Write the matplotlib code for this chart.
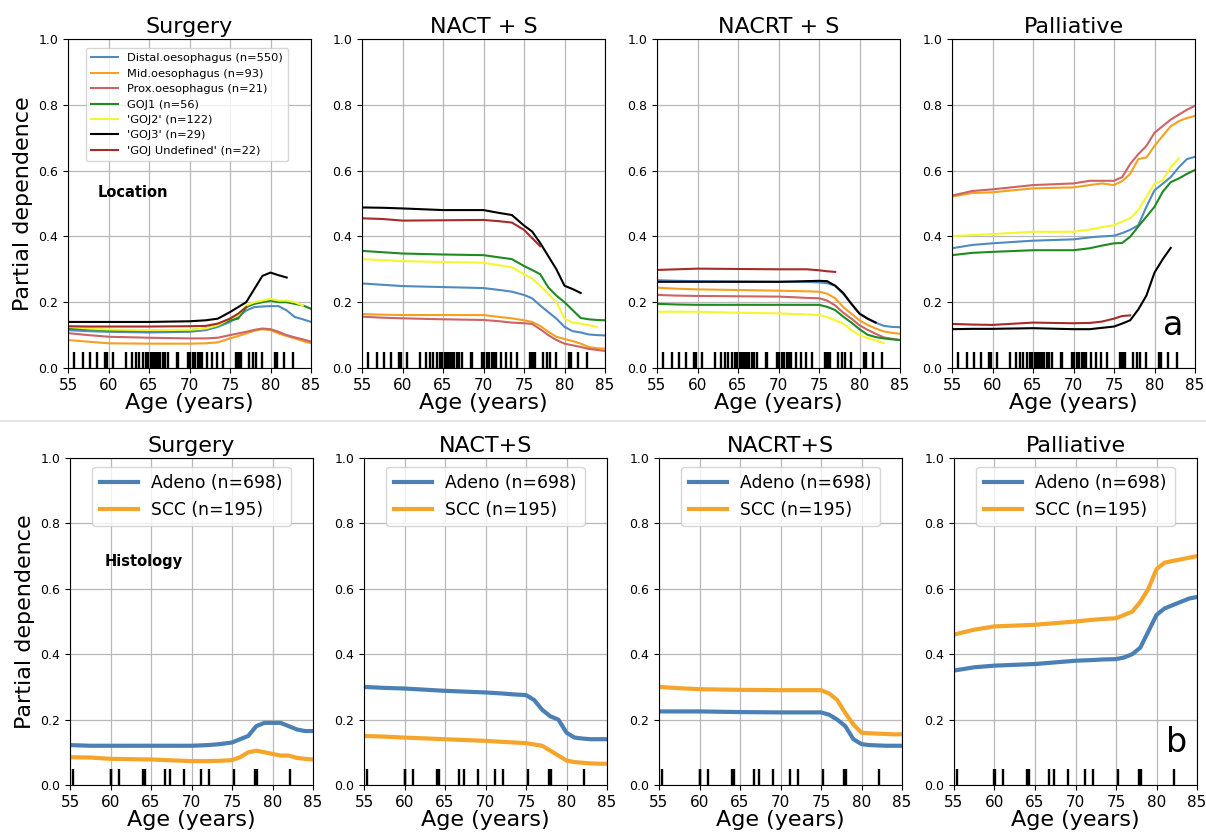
import numpy as np
import matplotlib
matplotlib.use('Agg')
import matplotlib.pyplot as plt
from matplotlib.lines import Line2D

nan = np.nan
ages = [55, 57.5, 60, 65, 70, 72, 73.5, 75, 76, 77, 78, 79, 80, 81, 82, 83, 84, 85]

# top row: location
loc_labels = ['Distal.oesophagus (n=550)', 'Mid.oesophagus (n=93)', 'Prox.oesophagus (n=21)',
              'GOJ1 (n=56)', "'GOJ2' (n=122)", "'GOJ3' (n=29)", "'GOJ Undefined' (n=22)"]
loc_colors = ['#4f8ac0', '#f5a020', '#cd6464', '#1f8a1f', '#f5f530', 'black', '#a52a2a']

surg_loc = [
    [0.115, 0.112, 0.11, 0.108, 0.11, 0.115, 0.125, 0.14, 0.155, 0.175, 0.185, 0.187, 0.188, 0.188, 0.175, 0.155, 0.148, 0.14],
    [0.085, 0.08, 0.075, 0.074, 0.074, 0.075, 0.078, 0.09, 0.097, 0.105, 0.113, 0.118, 0.115, 0.105, 0.097, 0.09, 0.082, 0.075],
    [0.106, 0.1, 0.095, 0.092, 0.09, 0.09, 0.092, 0.1, 0.105, 0.11, 0.116, 0.12, 0.118, 0.11, 0.1, 0.093, 0.087, 0.08],
    [0.12, 0.118, 0.115, 0.113, 0.115, 0.12, 0.13, 0.145, 0.15, 0.185, 0.195, 0.2, 0.205, 0.2, 0.2, 0.195, 0.19, 0.18],
    [0.125, 0.12, 0.117, 0.115, 0.116, 0.12, 0.13, 0.15, 0.16, 0.19, 0.2, 0.205, 0.21, 0.205, 0.205, 0.2, 0.19, nan],
    [0.14, 0.14, 0.14, 0.14, 0.142, 0.145, 0.15, 0.17, 0.185, 0.2, 0.24, 0.28, 0.29, 0.282, 0.275, nan, nan, nan],
    [0.127, 0.126, 0.126, 0.126, 0.127, 0.128, 0.135, 0.15, 0.165, 0.185, nan, nan, nan, nan, nan, nan, nan, nan],
]
nact_loc = [
    [0.257, 0.253, 0.249, 0.246, 0.243, 0.237, 0.232, 0.222, 0.212, 0.19, 0.17, 0.15, 0.125, 0.112, 0.108, 0.102, 0.1, 0.099],
    [0.164, 0.162, 0.161, 0.161, 0.161, 0.155, 0.151, 0.145, 0.14, 0.128, 0.11, 0.095, 0.088, 0.082, 0.074, 0.064, 0.06, 0.059],
    [0.156, 0.153, 0.151, 0.148, 0.146, 0.142, 0.138, 0.136, 0.134, 0.118, 0.1, 0.085, 0.074, 0.069, 0.064, 0.058, 0.055, 0.052],
    [0.356, 0.352, 0.348, 0.345, 0.343, 0.336, 0.331, 0.31, 0.298, 0.285, 0.245, 0.22, 0.2, 0.176, 0.152, 0.148, 0.146, 0.145],
    [0.331, 0.328, 0.325, 0.322, 0.32, 0.312, 0.306, 0.285, 0.272, 0.25, 0.225, 0.2, 0.15, 0.138, 0.135, 0.13, 0.125, nan],
    [0.488, 0.487, 0.485, 0.48, 0.48, 0.471, 0.465, 0.433, 0.415, 0.38, 0.34, 0.3, 0.25, 0.24, 0.228, nan, nan, nan],
    [0.455, 0.453, 0.448, 0.449, 0.45, 0.446, 0.442, 0.42, 0.395, 0.37, nan, nan, nan, nan, nan, nan, nan, nan],
]
nacrt_loc = [
    [0.267, 0.265, 0.264, 0.263, 0.262, 0.262, 0.262, 0.26, 0.258, 0.25, 0.225, 0.195, 0.166, 0.15, 0.138, 0.128, 0.125, 0.124],
    [0.244, 0.241, 0.239, 0.237, 0.235, 0.234, 0.233, 0.232, 0.226, 0.212, 0.185, 0.165, 0.145, 0.131, 0.12, 0.111, 0.107, 0.104],
    [0.222, 0.22, 0.219, 0.218, 0.217, 0.215, 0.213, 0.212, 0.205, 0.19, 0.168, 0.15, 0.13, 0.116, 0.104, 0.093, 0.089, 0.085],
    [0.195, 0.193, 0.192, 0.192, 0.192, 0.192, 0.192, 0.192, 0.186, 0.176, 0.156, 0.138, 0.118, 0.101, 0.094, 0.09, 0.087, 0.085],
    [0.171, 0.171, 0.171, 0.168, 0.166, 0.164, 0.163, 0.161, 0.155, 0.145, 0.135, 0.115, 0.1, 0.091, 0.084, 0.076, nan, nan],
    [0.262, 0.262, 0.262, 0.262, 0.262, 0.263, 0.264, 0.265, 0.264, 0.25, 0.228, 0.195, 0.165, 0.15, 0.138, nan, nan, nan],
    [0.298, 0.3, 0.302, 0.301, 0.3, 0.3, 0.3, 0.297, 0.294, 0.292, nan, nan, nan, nan, nan, nan, nan, nan],
]
pall_loc = [
    [0.364, 0.374, 0.379, 0.387, 0.391, 0.397, 0.4, 0.402, 0.41, 0.42, 0.434, 0.49, 0.54, 0.56, 0.58, 0.61, 0.635, 0.642],
    [0.521, 0.532, 0.534, 0.546, 0.549, 0.556, 0.561, 0.556, 0.568, 0.59, 0.635, 0.64, 0.675, 0.705, 0.735, 0.75, 0.76, 0.766],
    [0.524, 0.538, 0.543, 0.556, 0.561, 0.569, 0.569, 0.569, 0.58, 0.62, 0.65, 0.675, 0.715, 0.735, 0.755, 0.77, 0.785, 0.797],
    [0.343, 0.35, 0.353, 0.358, 0.358, 0.364, 0.372, 0.379, 0.38, 0.399, 0.43, 0.46, 0.49, 0.535, 0.565, 0.576, 0.59, 0.602],
    [0.401, 0.404, 0.407, 0.414, 0.414, 0.421, 0.428, 0.434, 0.445, 0.455, 0.48, 0.52, 0.56, 0.57, 0.61, 0.637, nan, nan],
    [0.118, 0.119, 0.119, 0.121, 0.118, 0.118, 0.122, 0.126, 0.135, 0.145, 0.178, 0.22, 0.29, 0.33, 0.365, nan, nan, nan],
    [0.134, 0.132, 0.131, 0.138, 0.136, 0.137, 0.141, 0.15, 0.158, 0.16, nan, nan, nan, nan, nan, nan, nan, nan],
]

# bottom row: histology
hist_labels = ['Adeno (n=698)', 'SCC (n=195)']
hist_colors = ['#4a80b4', '#f5a62a']
surg_hist = [
    [0.122, 0.12, 0.12, 0.12, 0.12, 0.122, 0.125, 0.13, 0.14, 0.15, 0.18, 0.19, 0.19, 0.19, 0.18, 0.17, 0.165, 0.165],
    [0.085, 0.084, 0.08, 0.078, 0.073, 0.073, 0.074, 0.076, 0.085, 0.1, 0.105, 0.1, 0.095, 0.09, 0.09, 0.083, 0.08, 0.078],
]
nact_hist = [
    [0.3, 0.297, 0.295, 0.288, 0.283, 0.28, 0.277, 0.275, 0.26, 0.23, 0.21, 0.2, 0.16, 0.145, 0.142, 0.14, 0.14, 0.14],
    [0.15, 0.148, 0.145, 0.14, 0.135, 0.132, 0.13, 0.128, 0.124, 0.12, 0.105, 0.09, 0.075, 0.07, 0.068, 0.066, 0.065, 0.065],
]
nacrt_hist = [
    [0.225, 0.225, 0.225, 0.223, 0.222, 0.222, 0.222, 0.222, 0.215, 0.2, 0.18, 0.14, 0.125, 0.122, 0.121, 0.12, 0.12, 0.12],
    [0.3, 0.296, 0.293, 0.291, 0.29, 0.29, 0.29, 0.29, 0.28, 0.26, 0.22, 0.185, 0.16, 0.158, 0.157, 0.156, 0.155, 0.155],
]
pall_hist = [
    [0.35, 0.36, 0.365, 0.37, 0.38, 0.382, 0.384, 0.385, 0.39, 0.4, 0.42, 0.47, 0.52, 0.54, 0.55, 0.56, 0.57, 0.575],
    [0.46, 0.475, 0.485, 0.49, 0.5, 0.505, 0.508, 0.51, 0.52, 0.53, 0.56, 0.6, 0.66, 0.68, 0.685, 0.69, 0.695, 0.70],
]

top_titles = ['Surgery', 'NACT + S', 'NACRT + S', 'Palliative']
bot_titles = ['Surgery', 'NACT+S', 'NACRT+S', 'Palliative']

rug_top = [55.8, 56.9, 57.7, 58.6, 59.6, 59.8, 60.6, 62.1, 62.9, 63.4, 63.8, 64.3, 64.6, 64.9, 65.2,
           65.5, 65.7, 65.9, 66.1, 66.4, 66.7, 67.0, 67.3, 68.4, 68.6, 69.8, 70.1, 70.4, 70.7, 71.0,
           71.3, 71.6, 72.1, 72.8, 73.4, 74.1, 75.7, 75.9, 76.1, 76.3, 77.3, 77.9, 78.2, 78.9, 80.5,
           80.8, 81.7, 82.8]
rug_bot = [55.4, 60.0, 60.1, 61.0, 64.0, 64.2, 66.7, 67.3, 69.1, 71.2, 72.2, 75.2, 77.8, 78.0, 78.1, 82.1]

fig = plt.figure(figsize=(12.06, 8.34), dpi=100)
lefts = [68, 362, 657, 952]
W, H = 1206, 834


def style(ax, title):
    ax.set_xlim(55, 85)
    ax.set_ylim(0, 1)
    ax.set_xticks([55, 60, 65, 70, 75, 80, 85])
    ax.set_yticks([0, 0.2, 0.4, 0.6, 0.8, 1.0])
    ax.set_yticklabels(['0.0', '0.2', '0.4', '0.6', '0.8', '1.0'])
    ax.tick_params(axis='x', labelsize=11)
    ax.tick_params(axis='y', labelsize=9)
    ax.grid(True, color='#b8b8b8', linewidth=0.9)
    ax.set_axisbelow(True)
    ax.set_title(title, fontsize=16, pad=4)
    ax.set_xlabel('Age (years)', fontsize=16, labelpad=0)


top_data = [surg_loc, nact_loc, nacrt_loc, pall_loc]
bot_data = [surg_hist, nact_hist, nacrt_hist, pall_hist]

for i in range(4):
    ax = fig.add_axes([lefts[i] / W, 1 - 368 / H, 243 / W, 329 / H])
    for vals, c, lab in zip(top_data[i], loc_colors, loc_labels):
        ax.plot(ages, vals, color=c, lw=1.5, label=lab)
    ax.vlines(rug_top, 0, 0.05, color='black', lw=1.7)
    style(ax, top_titles[i])
    if i == 0:
        ax.set_ylabel('Partial dependence', fontsize=16)
        ax.legend(loc='upper left', bbox_to_anchor=(0.05, 0.99), fontsize=8.2,
                  handlelength=2.4, labelspacing=0.48, borderpad=0.45)
        ax.text(58.6, 0.532, 'Location', fontsize=10.5, fontweight='bold', va='center')
    if i == 3:
        ax.text(81, 0.13, 'a', fontsize=24, va='center')

for i in range(4):
    ax = fig.add_axes([(lefts[i] + 2) / W, 1 - 785 / H, 243 / W, 327 / H])
    for vals, c, lab in zip(bot_data[i], hist_colors, hist_labels):
        ax.plot(ages, vals, color=c, lw=3, label=lab)
    ax.vlines(rug_bot, 0, 0.05, color='black', lw=1.7)
    style(ax, bot_titles[i])
    ax.legend(loc='upper center', fontsize=12.3, handlelength=2.2, borderpad=0.45)
    if i == 0:
        ax.set_ylabel('Partial dependence', fontsize=16)
        ax.text(59.3, 0.685, 'Histology', fontsize=10.5, fontweight='bold', va='center')
    if i == 3:
        ax.text(81.2, 0.13, 'b', fontsize=24, va='center')

fig.add_artist(Line2D([0, 1], [1 - 421 / H, 1 - 421 / H], color='#e6e6e6', lw=1.5))

fig.savefig('out.png', dpi=100)
